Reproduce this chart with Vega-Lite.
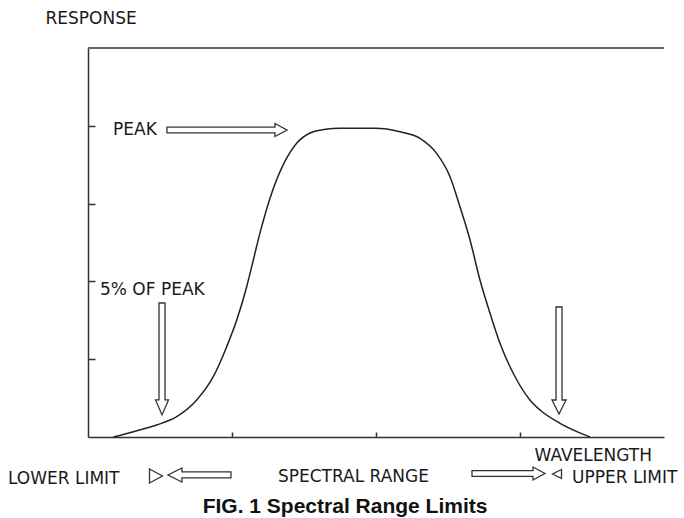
{
  "$schema": "https://vega.github.io/schema/vega-lite/v6.json",
  "width": 576,
  "height": 389,
  "autosize": {"type": "none"},
  "padding": {"left": 88, "top": 48, "right": 20, "bottom": 81},
  "background": "white",
  "config": {"view": {"stroke": null}, "font": "DejaVu Sans"},
  "encoding": {
    "x": {
      "field": "x", "type": "quantitative",
      "scale": {"domain": [0, 4], "nice": false, "zero": false},
      "axis": {
        "title": "WAVELENGTH", "values": [1, 2, 3], "labels": false, "grid": false,
        "tickSize": -5, "tickColor": "#333", "tickWidth": 1.5,
        "domainColor": "#333", "domainWidth": 1.5,
        "titleX": 446, "titleY": 18, "titleAlign": "left", "titleBaseline": "middle",
        "titleFont": "DejaVu Sans", "titleFontSize": 17, "titleFontWeight": "normal", "titleColor": "#1a1a1a"
      }
    },
    "y": {
      "field": "y", "type": "quantitative",
      "scale": {"domain": [0, 5], "nice": false, "zero": false},
      "axis": {
        "title": "RESPONSE", "values": [1, 2, 3, 4], "labels": false, "grid": false,
        "tickSize": -7, "tickColor": "#333", "tickWidth": 1.5,
        "domainColor": "#333", "domainWidth": 1.5,
        "titleAngle": 0, "titleX": -43, "titleY": -30, "titleAlign": "left", "titleBaseline": "middle",
        "titleFont": "DejaVu Sans", "titleFontSize": 17, "titleFontWeight": "normal", "titleColor": "#1a1a1a"
      }
    }
  },
  "layer": [
    {
      "data": {"values": [{"x": 0, "x2": 4, "y": 5}]},
      "mark": {"type": "rule", "color": "#666", "strokeWidth": 2},
      "encoding": {"x2": {"field": "x2"}}
    },
    {
      "data": {"values": [
        {"x": 0.176, "y": 0}, {"x": 0.315, "y": 0.068}, {"x": 0.477, "y": 0.154},
        {"x": 0.616, "y": 0.261}, {"x": 0.755, "y": 0.476}, {"x": 0.870, "y": 0.775},
        {"x": 0.963, "y": 1.161}, {"x": 1.033, "y": 1.504}, {"x": 1.102, "y": 1.932},
        {"x": 1.148, "y": 2.275}, {"x": 1.194, "y": 2.62}, {"x": 1.264, "y": 3.07},
        {"x": 1.356, "y": 3.50}, {"x": 1.449, "y": 3.775}, {"x": 1.542, "y": 3.907},
        {"x": 1.65, "y": 3.955}, {"x": 1.75, "y": 3.968}, {"x": 1.995, "y": 3.968},
        {"x": 2.167, "y": 3.924}, {"x": 2.306, "y": 3.839}, {"x": 2.421, "y": 3.646},
        {"x": 2.514, "y": 3.346}, {"x": 2.583, "y": 2.960}, {"x": 2.653, "y": 2.532},
        {"x": 2.722, "y": 2.018}, {"x": 2.792, "y": 1.590}, {"x": 2.861, "y": 1.204},
        {"x": 2.953, "y": 0.819}, {"x": 3.069, "y": 0.476}, {"x": 3.139, "y": 0.347},
        {"x": 3.278, "y": 0.176}, {"x": 3.463, "y": 0.017}, {"x": 3.486, "y": 0}
      ]},
      "mark": {"type": "line", "interpolate": "monotone", "color": "#222", "strokeWidth": 1.5},
      "encoding": {}
    },
    {
      "data": {"values": [
        {"arrow": "peak", "x": 0.965, "y": 3.946},
        {"arrow": "down_low", "x": 0.514, "y": 1.003},
        {"arrow": "down_high", "x": 3.271, "y": 0.983},
        {"arrow": "left", "x": 0.774, "y": -0.488},
        {"arrow": "right", "x": 2.920, "y": -0.469},
        {"arrow": "tri_right", "x": 0.472, "y": -0.501},
        {"arrow": "tri_left", "x": 3.257, "y": -0.476}
      ]},
      "mark": {"type": "point", "filled": true, "fill": "white", "stroke": "#333", "strokeWidth": 1.3, "opacity": 1, "size": 14400, "clip": false},
      "encoding": {
        "shape": {
          "field": "arrow", "type": "nominal", "legend": null,
          "scale": {
            "domain": ["peak", "down_low", "down_high", "left", "right", "tri_right", "tri_left"],
            "range": [
              "M-1,-0.047L0.8,-0.047L0.8,-0.108L1,0L0.8,0.108L0.8,0.047L-1,0.047Z",
              "M-0.05,-0.933L0.05,-0.933L0.05,0.683L0.108,0.683L0,0.933L-0.108,0.683L-0.05,0.683Z",
              "M-0.05,-0.892L0.05,-0.892L0.05,0.658L0.117,0.658L0,0.892L-0.117,0.658L-0.05,0.658Z",
              "M0.525,-0.05L-0.292,-0.05L-0.292,-0.117L-0.525,0L-0.292,0.117L-0.292,0.05L0.525,0.05Z",
              "M-0.608,-0.047L0.408,-0.047L0.408,-0.108L0.608,0L0.408,0.108L0.408,0.047L-0.608,0.047Z",
              "M-0.108,-0.117L0.108,0L-0.108,0.117Z",
              "M0.075,-0.075L-0.075,0L0.075,0.075Z"
            ]
          }
        }
      }
    },
    {
      "data": {"values": [
        {"label": "PEAK", "x": 0.174, "y": 3.946},
        {"label": "5% OF PEAK", "x": 0.083, "y": 1.889},
        {"label": "LOWER LIMIT", "x": -0.556, "y": -0.546},
        {"label": "SPECTRAL RANGE", "x": 1.319, "y": -0.514},
        {"label": "UPPER LIMIT", "x": 3.361, "y": -0.527}
      ]},
      "mark": {"type": "text", "align": "left", "baseline": "middle", "font": "DejaVu Sans", "fontSize": 17, "color": "#1a1a1a", "clip": false},
      "encoding": {"text": {"field": "label"}}
    },
    {
      "data": {"values": [{"label": "FIG. 1 Spectral Range Limits", "x": 1.785, "y": -0.900}]},
      "mark": {"type": "text", "align": "center", "baseline": "middle", "font": "Liberation Sans", "fontSize": 21, "fontWeight": "bold", "color": "#111", "clip": false},
      "encoding": {"text": {"field": "label"}}
    }
  ]
}
